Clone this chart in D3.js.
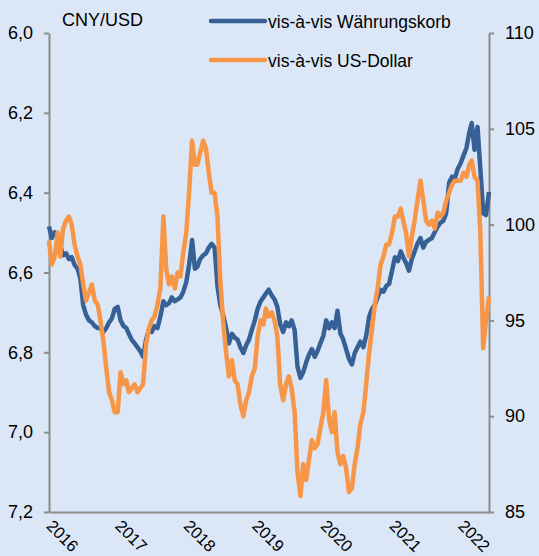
<!DOCTYPE html>
<html>
<head>
<meta charset="utf-8">
<script src="https://cdn.jsdelivr.net/npm/d3@7"></script>
<style>
  body { margin: 0; background: #dbe7f6; }
  svg text { font-family: "Liberation Sans", Arial, sans-serif; fill: #000; }
</style>
</head>
<body>
<div id="content"></div>
<script>
const svgWidth = 539, svgHeight = 556;

// tick labels
const leftTicks = [6.0, 6.2, 6.4, 6.6, 6.8, 7.0, 7.2];
const rightTicks = [85, 90, 95, 100, 105, 110];
const yearLabels = ["2016", "2017", "2018", "2019", "2020", "2021", "2022"];

// CNY per USD, sampled on the 1st and 16th of each month (Jan 2016 .. Jun 1 2022)
const usdRate = [
  6.52, 6.58, 6.56, 6.50, 6.56, 6.49, 6.47, 6.46, 6.48, 6.53, 6.56, 6.58,
  6.63, 6.67, 6.65, 6.63, 6.67, 6.68, 6.72, 6.77, 6.84, 6.90, 6.92, 6.95,
  6.95, 6.85, 6.88, 6.87, 6.90, 6.89, 6.88, 6.90, 6.89, 6.88, 6.78, 6.74,
  6.72, 6.71, 6.68, 6.64, 6.46, 6.59, 6.63, 6.61, 6.64, 6.60, 6.61, 6.55,
  6.50, 6.40, 6.27, 6.33, 6.33, 6.30, 6.27, 6.29, 6.35, 6.40, 6.40, 6.46,
  6.62, 6.72, 6.80, 6.86, 6.82, 6.87, 6.88, 6.93, 6.96, 6.92, 6.90, 6.86,
  6.84, 6.76, 6.72, 6.73, 6.69, 6.71, 6.70, 6.72, 6.76, 6.88, 6.92, 6.88,
  6.86, 6.89, 6.95, 7.10, 7.16, 7.08, 7.12, 7.07, 7.02, 7.04, 7.03, 6.99,
  6.95, 6.87, 6.97, 7.00, 6.95, 7.05, 7.08, 7.06, 7.09, 7.15, 7.14, 7.08,
  7.04, 6.98, 6.95, 6.88, 6.80, 6.74, 6.68, 6.64, 6.58, 6.56, 6.53, 6.53,
  6.50, 6.46, 6.46, 6.44, 6.47, 6.50, 6.56, 6.51, 6.47, 6.42, 6.37, 6.42,
  6.47, 6.48, 6.47, 6.49, 6.45, 6.46, 6.45, 6.42, 6.40, 6.38, 6.37, 6.37,
  6.37, 6.35, 6.36, 6.33, 6.32, 6.36, 6.37, 6.50, 6.79, 6.72, 6.66
];

// CFETS basket index, same sample dates
const basketIndex = [
  99.9, 99.3, 99.6, 99.5, 98.9, 98.4, 98.5, 98.2, 98.3, 97.9, 97.7, 97.2,
  95.8, 95.3, 95.0, 94.9, 94.7, 94.6, 94.6, 94.4, 94.6, 94.9, 95.1, 95.6,
  95.7, 95.0, 94.7, 94.6, 94.3, 94.0, 93.8, 93.6, 93.4, 93.1, 94.0, 94.5,
  94.4, 94.7, 94.6, 95.2, 96.0, 95.8, 95.9, 96.2, 96.0, 96.1, 96.2, 96.5,
  97.0, 97.9, 99.2, 97.7, 97.8, 98.2, 98.4, 98.5, 98.8, 99.0, 98.8, 96.8,
  95.8, 95.3, 94.6, 93.8, 94.3, 94.1, 94.0, 93.6, 93.3, 93.7, 94.0, 94.5,
  95.0, 95.6, 96.0, 96.2, 96.4, 96.6, 96.3, 96.1, 95.7, 94.8, 94.4, 94.9,
  94.7, 95.0, 94.5, 92.6, 92.0, 92.3, 92.8, 93.2, 93.5, 93.1, 93.4, 93.8,
  94.2, 95.0, 94.6, 94.9, 94.6, 95.5, 94.3, 94.0, 93.5, 93.0, 92.7, 93.3,
  93.6, 93.9, 93.6, 94.2, 95.2, 95.6, 95.8, 96.2, 96.6, 96.5, 96.8, 96.9,
  97.6, 98.3, 98.1, 98.6, 98.3, 98.0, 97.6, 98.2, 98.6, 99.0, 99.3, 98.8,
  99.1, 99.2, 99.3, 99.6, 99.9, 100.1, 100.2, 100.6, 102.2, 102.5, 102.4, 102.9,
  103.2, 103.6, 104.0, 104.8, 105.3, 103.9, 105.1, 102.9, 100.6, 100.5, 101.7
];

const sampleDates = usdRate.map((_, i) => new Date(2016, Math.floor(i / 2), i % 2 ? 16 : 1));

const margin = {top: 33, right: 50, bottom: 44, left: 49};

window.addEventListener("load", () => {
  const svg = d3.select("#content").append("svg")
    .attr("width", svgWidth)
    .attr("height", svgHeight);

  svg.append("rect")
    .attr("width", svgWidth).attr("height", svgHeight)
    .attr("fill", "#dbe7f6");

  const x = d3.scaleTime()
    .domain([new Date(2016, 0, 1), new Date(2022, 5, 1)])
    .range([margin.left, svgWidth - margin.right]);
  const yLeft = d3.scaleLinear()
    .domain([6.0, 7.2])
    .range([margin.top, svgHeight - margin.bottom]);
  const yRight = d3.scaleLinear()
    .domain([85, 110])
    .range([svgHeight - margin.bottom, margin.top]);

  const axisColor = "#8c8c8c";

  const gl = svg.append("g")
    .attr("transform", `translate(${margin.left},0)`)
    .call(d3.axisLeft(yLeft).tickValues(leftTicks).tickSize(5).tickSizeOuter(0).tickPadding(11)
      .tickFormat(d => d.toFixed(1).replace(".", ",")));

  const gr = svg.append("g")
    .attr("transform", `translate(${svgWidth - margin.right},0)`)
    .call(d3.axisRight(yRight).tickValues(rightTicks).tickSize(5).tickSizeOuter(0).tickPadding(11));

  const gx = svg.append("g")
    .attr("transform", `translate(0,${svgHeight - margin.bottom})`)
    .call(d3.axisBottom(x).tickValues(yearLabels.map(y => new Date(+y, 0, 1)))
      .tickSize(0).tickSizeOuter(0).tickFormat(d3.timeFormat("%Y")));

  [gl, gr, gx].forEach(g => {
    g.selectAll(".domain").attr("stroke", axisColor).attr("stroke-width", 2);
    g.selectAll(".tick line").attr("stroke", axisColor).attr("stroke-width", 2);
    g.selectAll("text").attr("font-size", 18).attr("fill", "#000")
      .style("font-family", "'Liberation Sans', Arial, sans-serif");
  });

  // rotated year labels, slightly smaller so they stay inside the frame
  gx.selectAll("text")
    .attr("y", 0).attr("dy", 0)
    .attr("font-size", 16.5)
    .attr("text-anchor", "start")
    .attr("transform", "translate(-4,15) rotate(45)");

  const lineBasket = d3.line()
    .x((d, i) => x(sampleDates[i]))
    .y(d => yRight(d));
  const lineUsd = d3.line()
    .x((d, i) => x(sampleDates[i]))
    .y(d => yLeft(d));

  svg.append("path")
    .datum(basketIndex)
    .attr("d", lineBasket)
    .attr("fill", "none")
    .attr("stroke", "#376196")
    .attr("stroke-width", 4.5)
    .attr("stroke-linejoin", "round");

  svg.append("path")
    .datum(usdRate)
    .attr("d", lineUsd)
    .attr("fill", "none")
    .attr("stroke", "#f79646")
    .attr("stroke-width", 4.5)
    .attr("stroke-linejoin", "round");

  // title of left axis
  svg.append("text")
    .attr("x", 62).attr("y", 26)
    .attr("font-size", 18)
    .text("CNY/USD");

  // legend
  const legend = [
    {label: "vis-à-vis Währungskorb", color: "#376196", y: 21},
    {label: "vis-à-vis US-Dollar", color: "#f79646", y: 60}
  ];
  const lg = svg.append("g");
  lg.selectAll("line")
    .data(legend).enter().append("line")
    .attr("x1", 211).attr("x2", 265)
    .attr("y1", d => d.y).attr("y2", d => d.y)
    .attr("stroke", d => d.color)
    .attr("stroke-width", 4.5)
    .attr("stroke-linecap", "round");
  lg.selectAll("text")
    .data(legend).enter().append("text")
    .attr("x", 268).attr("y", d => d.y + 7)
    .attr("font-size", 17.5)
    .text(d => d.label);
});
</script>
</body>
</html>
